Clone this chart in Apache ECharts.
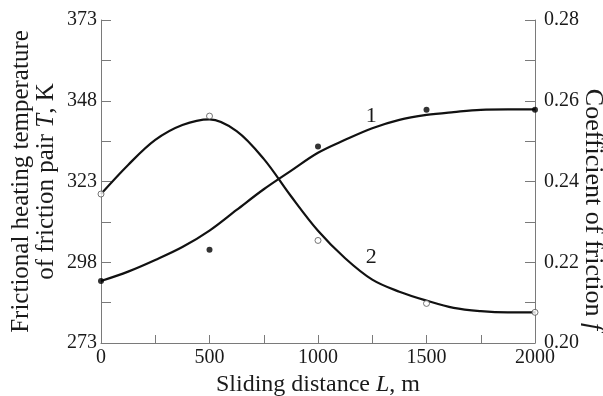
<!DOCTYPE html>
<html>
<head>
<meta charset="utf-8">
<script src="https://cdn.jsdelivr.net/npm/echarts@6/dist/echarts.min.js"></script>
<style>
html,body{margin:0;padding:0;background:#fff;}
#chart{width:603px;height:396px;}
</style>
</head>
<body>
<div id="chart"></div>
<script>
// Sliding distance L, m
const L_points = [0, 500, 1000, 1500, 2000];
// Measured points: curve 1 (temperature T, K) and curve 2 (coefficient of friction f)
const T_points = [292.2, 301.9, 333.8, 345.2, 345.2];
const f_points = [0.2369, 0.2562, 0.2254, 0.2098, 0.2076];
// Fitted curves sampled along L
const L_fit = [0, 125, 250, 375, 500, 625, 750, 875, 1000, 1125, 1250, 1375, 1500, 1625, 1750, 1875, 2000];
const T_fit = [292.2, 295.1, 298.7, 302.7, 307.8, 314.2, 320.6, 326.3, 331.9, 335.9, 339.5, 342.1, 343.6, 344.5, 345.2, 345.3, 345.3];
const f_fit = [0.2369, 0.2441, 0.2503, 0.2540, 0.2554, 0.2525, 0.2456, 0.2364, 0.2278, 0.2210, 0.2157, 0.2127, 0.2105, 0.2087, 0.2079, 0.2076, 0.2076];
// Axis tick labels
const xTickLabels = [0, 500, 1000, 1500, 2000];
const tTickLabels = [273, 298, 323, 348, 373];
const fTickLabels = ['0.20', '0.22', '0.24', '0.26', '0.28'];
const curveLabels = ['1', '2'];

const FONT = "'Liberation Serif', 'Times New Roman', serif";
const axisGray = '#7a7a7a';
const textColor = '#1a1a1a';

const chart = echarts.init(document.getElementById('chart'), null, {renderer: 'canvas'});

const zip = (xs, ys) => xs.map((x, i) => [x, ys[i]]);
const labelIdx = L_fit.indexOf(1250);

const option = {
  animation: false,
  backgroundColor: '#fff',
  grid: {left: 101, right: 68, top: 20, bottom: 53, containLabel: false, outerBoundsMode: 'none'},
  xAxis: {
    type: 'value', min: 0, max: 2000, interval: 250,
    axisLine: {lineStyle: {color: axisGray, width: 1}},
    axisTick: {inside: true, length: 8, lineStyle: {color: axisGray}},
    splitLine: {show: false},
    axisLabel: {
      fontFamily: FONT, fontSize: 20, color: textColor, margin: 5,
      formatter: v => xTickLabels.indexOf(Math.round(v)) >= 0 ? String(Math.round(v)) : ''
    },
    name: 'Sliding distance {i|L}, m',
    nameLocation: 'middle', nameGap: 30, nameMoveOverlap: false,
    nameTextStyle: {fontFamily: FONT, fontSize: 24, color: textColor,
      rich: {i: {fontFamily: FONT, fontSize: 24, fontStyle: 'italic', color: textColor}}}
  },
  yAxis: [{
    type: 'value', min: 273, max: 373, interval: 12.5,
    axisLine: {show: true, lineStyle: {color: axisGray, width: 1}},
    axisTick: {show: true, inside: true, length: 10, lineStyle: {color: axisGray}},
    splitLine: {show: false},
    axisLabel: {
      fontFamily: FONT, fontSize: 20, color: textColor, margin: 4,
      formatter: v => tTickLabels.indexOf(Math.round(v * 10) / 10) >= 0 ? String(Math.round(v)) : ''
    },
    name: 'Frictional heating temperature\nof friction pair {i|T}, K',
    nameLocation: 'middle', nameGap: 42, nameRotate: 90, nameMoveOverlap: false,
    nameTextStyle: {fontFamily: FONT, fontSize: 25, color: textColor, lineHeight: 25, align: 'center',
      rich: {i: {fontFamily: FONT, fontSize: 25, fontStyle: 'italic', color: textColor, lineHeight: 25}}}
  }, {
    type: 'value', min: 0.20, max: 0.28, interval: 0.01, position: 'right',
    axisLine: {show: true, lineStyle: {color: axisGray, width: 1}},
    axisTick: {show: true, inside: true, length: 10, lineStyle: {color: axisGray}},
    splitLine: {show: false},
    axisLabel: {
      fontFamily: FONT, fontSize: 20, color: textColor, margin: 9,
      formatter: v => { const s = v.toFixed(2); return fTickLabels.indexOf(s) >= 0 ? s : ''; }
    },
    name: 'Coefficient of friction {i|f}',
    nameLocation: 'middle', nameGap: 45, nameRotate: -90, nameMoveOverlap: false,
    nameTextStyle: {fontFamily: FONT, fontSize: 26, color: textColor, padding: [0, 0, 0, 56],
      rich: {i: {fontFamily: FONT, fontSize: 26, fontStyle: 'italic', color: textColor}}}
  }],
  series: [{
    type: 'line', name: 'T fit', yAxisIndex: 0, data: zip(L_fit, T_fit),
    smooth: 0.35, showSymbol: false, symbol: 'none',
    lineStyle: {color: '#111', width: 2.2}, z: 2,
    markPoint: {
      symbol: 'circle', symbolSize: 0,
      label: {show: true, position: 'inside', fontFamily: FONT, fontSize: 22, color: textColor},
      data: [{coord: [L_fit[labelIdx], T_fit[labelIdx]], value: curveLabels[0],
        label: {formatter: curveLabels[0], offset: [-1, -12]}}]
    }
  }, {
    type: 'line', name: 'f fit', yAxisIndex: 1, data: zip(L_fit, f_fit),
    smooth: 0.35, showSymbol: false, symbol: 'none',
    lineStyle: {color: '#111', width: 2.2}, z: 2,
    markPoint: {
      symbol: 'circle', symbolSize: 0,
      label: {show: true, position: 'inside', fontFamily: FONT, fontSize: 22, color: textColor},
      data: [{coord: [L_fit[labelIdx], f_fit[labelIdx]], value: curveLabels[1],
        label: {formatter: curveLabels[1], offset: [-1, -22]}}]
    }
  }, {
    type: 'scatter', name: 'T', yAxisIndex: 0, data: zip(L_points, T_points),
    symbol: 'circle', symbolSize: 6,
    itemStyle: {color: '#000', borderColor: '#000', borderWidth: 0}, z: 5
  }, {
    type: 'scatter', name: 'f', yAxisIndex: 1, data: zip(L_points, f_points),
    symbol: 'circle', symbolSize: 6,
    itemStyle: {color: '#fff', borderColor: '#555', borderWidth: 1}, z: 5
  }]
};
chart.setOption(option);
</script>
</body>
</html>
